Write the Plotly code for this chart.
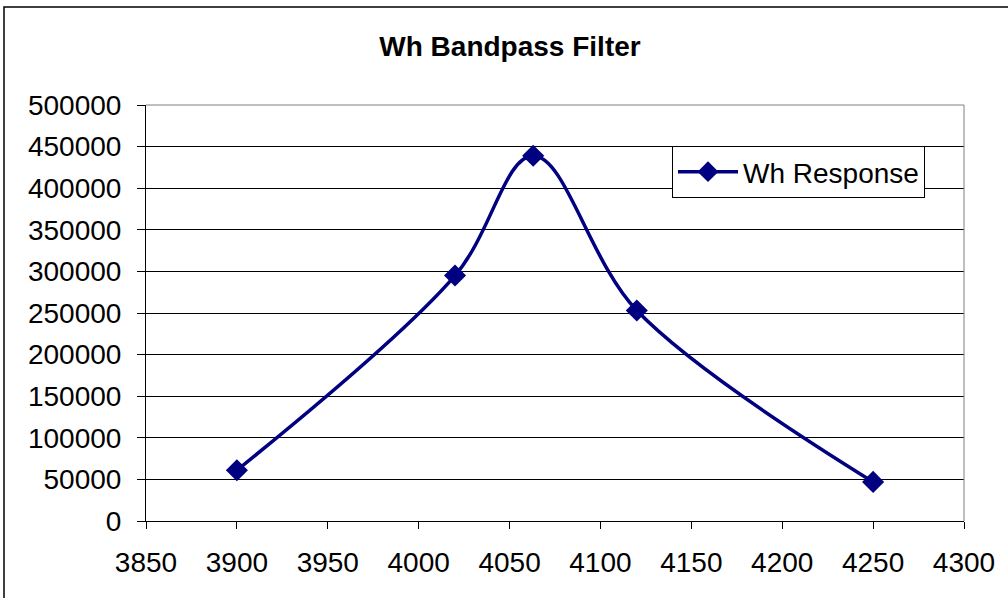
import plotly.graph_objects as go

# Data
freq = [3900, 4020, 4063, 4120, 4250]
response = [61000, 295000, 439000, 253000, 47000]
series_name = "Wh Response"
title_text = "Wh Bandpass Filter"
x_ticks = [3850, 3900, 3950, 4000, 4050, 4100, 4150, 4200, 4250, 4300]
y_ticks = [0, 50000, 100000, 150000, 200000, 250000, 300000, 350000, 400000, 450000, 500000]

W, H = 1008, 598
L, R, T, B = 146, 44, 105, 77
pw, ph = W - L - R, H - T - B

def px_x(p):
    return (p - L) / pw

def px_y(p):
    return (H - B - p) / ph

font_family = "Liberation Sans, Arial, sans-serif"
navy = "#000080"

fig = go.Figure()
fig.add_trace(go.Scatter(
    x=freq, y=response, name=series_name,
    mode="lines+markers",
    line=dict(color=navy, width=3.5, shape="spline", smoothing=1.0),
    marker=dict(symbol="diamond", size=17, color=navy),
))

fig.update_layout(
    width=W, height=H,
    margin=dict(l=L, r=R, t=T, b=B),
    paper_bgcolor="white", plot_bgcolor="white",
    font=dict(family=font_family, size=28, color="black"),
    title=dict(text="<b>" + title_text + "</b>", font=dict(size=28, family=font_family),
               xref="container", yref="container", x=510 / W, y=1 - 46 / H,
               xanchor="center", yanchor="middle"),
    showlegend=True,
    legend=dict(x=px_x(672), y=px_y(146), xanchor="left", yanchor="top",
                bgcolor="white", bordercolor="black", borderwidth=1,
                font=dict(size=28), itemwidth=60),
    xaxis=dict(range=[3850, 4300], tickvals=x_ticks, ticktext=[str(v) for v in x_ticks],
               showgrid=False, zeroline=False, showline=True, linecolor="black", linewidth=1,
               ticks="outside", ticklen=7, tickcolor="black", ticklabelstandoff=9),
    yaxis=dict(range=[0, 500000], tickvals=y_ticks, ticktext=[str(v) for v in y_ticks],
               showgrid=True, gridcolor="black", gridwidth=1, zeroline=False,
               showline=True, linecolor="black", linewidth=1,
               ticks="outside", ticklen=8, tickcolor="black", ticklabelstandoff=10),
    shapes=[
        dict(type="line", xref="paper", yref="paper", x0=0, x1=1, y0=1, y1=1,
             line=dict(color="#808080", width=1)),
        dict(type="line", xref="paper", yref="paper", x0=1, x1=1, y0=0, y1=1,
             line=dict(color="#808080", width=1)),
        dict(type="rect", xref="paper", yref="paper",
             x0=px_x(4), x1=px_x(1014), y0=px_y(604), y1=px_y(7),
             line=dict(color="black", width=1.5), fillcolor="rgba(0,0,0,0)"),
    ],
)

fig.write_html("out.html", config={"displayModeBar": False},
               post_script="document.body.style.margin='0';document.body.style.overflow='hidden';")
